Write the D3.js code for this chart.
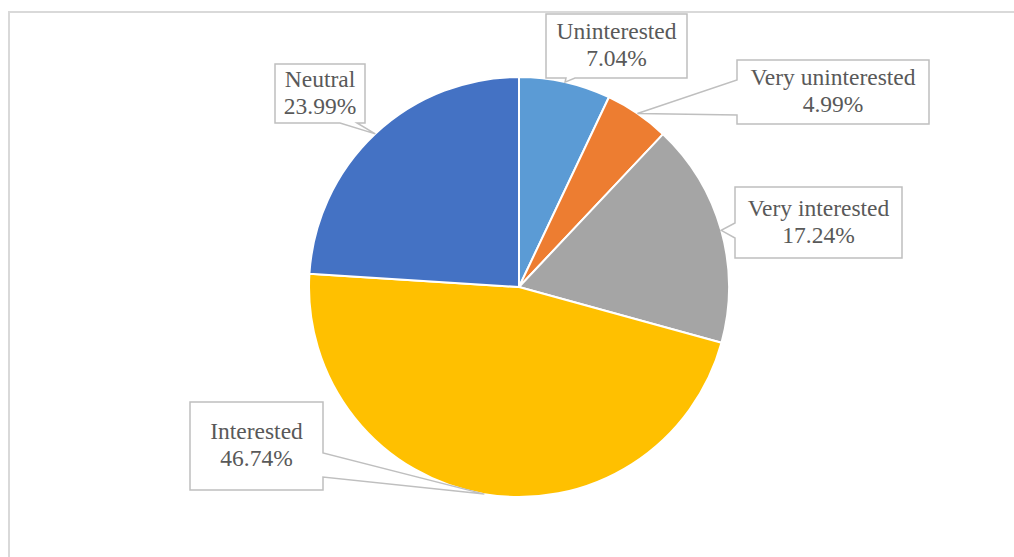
<!DOCTYPE html>
<html>
<head>
<meta charset="utf-8">
<script src="https://cdn.jsdelivr.net/npm/d3@7/dist/d3.min.js"></script>
<style>
  html, body { margin: 0; padding: 0; background: #ffffff; }
  svg { display: block; }
  .callout-text { font-family: "Liberation Serif", "Times New Roman", Times, "DejaVu Serif", serif; }
</style>
</head>
<body>
<svg id="chart" width="1014" height="557"></svg>
<script>
// Survey responses, in drawing order (clockwise from 12 o'clock)
const categories = ["Uninterested", "Very uninterested", "Very interested", "Interested", "Neutral"];
const shares = [7.04, 4.99, 17.24, 46.74, 23.99];
const colors = ["#5B9BD5", "#ED7D31", "#A5A5A5", "#FFC000", "#4472C4"];

// Callout boxes: [x0, y0, x1, y1], the side carrying the pointer, and the pointer base span
const callouts = [
  { box: [546, 14, 687, 78],  side: "bottom", base: [566, 575] },
  { box: [737, 60, 929, 124], side: "left",   base: [80, 115] },
  { box: [735, 187, 902, 258], side: "left",  base: [223, 238] },
  { box: [190, 402, 323, 490], side: "right", base: [453, 477] },
  { box: [275, 64, 365, 123], side: "bottom", base: [340, 357] }
];

const width = 1014, height = 557;
const cx = 519, cy = 287, radius = 210;

const svg = d3.select("#chart");

// Chart area frame (runs off the right and bottom edges)
svg.append("rect")
  .attr("x", 9).attr("y", 12)
  .attr("width", 1100).attr("height", 700)
  .attr("fill", "none")
  .attr("stroke", "#d9d9d9")
  .attr("stroke-width", 2);

const pie = d3.pie().sort(null).value(d => d);
const arcs = pie(shares);

const arc = d3.arc().innerRadius(0).outerRadius(radius);
const edge = d3.arc().innerRadius(radius).outerRadius(radius);

const g = svg.append("g").attr("transform", `translate(${cx},${cy})`);

g.selectAll("path.slice")
  .data(arcs)
  .join("path")
  .attr("class", "slice")
  .attr("d", arc)
  .attr("fill", (d, i) => colors[i])
  .attr("stroke", "#ffffff")
  .attr("stroke-width", 2)
  .attr("stroke-linejoin", "round");

// Rectangle outline with a wedge pointing at the tip
function calloutPath(c, tip) {
  const [x0, y0, x1, y1] = c.box;
  const [a, b] = c.base;
  const p = d3.path();
  p.moveTo(x0, y0);
  if (c.side === "top") { p.lineTo(a, y0); p.lineTo(tip[0], tip[1]); p.lineTo(b, y0); }
  p.lineTo(x1, y0);
  if (c.side === "right") { p.lineTo(x1, a); p.lineTo(tip[0], tip[1]); p.lineTo(x1, b); }
  p.lineTo(x1, y1);
  if (c.side === "bottom") { p.lineTo(b, y1); p.lineTo(tip[0], tip[1]); p.lineTo(a, y1); }
  p.lineTo(x0, y1);
  if (c.side === "left") { p.lineTo(x0, b); p.lineTo(tip[0], tip[1]); p.lineTo(x0, a); }
  p.closePath();
  return p.toString();
}

const labels = svg.append("g");

arcs.forEach((d, i) => {
  const c = callouts[i];
  const [tx, ty] = edge.centroid(d);
  const tip = [cx + tx, cy + ty];

  labels.append("path")
    .attr("d", calloutPath(c, tip))
    .attr("fill", "#ffffff")
    .attr("stroke", "#bfbfbf")
    .attr("stroke-width", 1.5)
    .attr("stroke-linejoin", "miter");

  const mx = (c.box[0] + c.box[2]) / 2;
  const my = (c.box[1] + c.box[3]) / 2;
  const t = labels.append("text")
    .attr("class", "callout-text")
    .attr("x", mx)
    .attr("y", my)
    .attr("text-anchor", "middle")
    .style("font-size", "23.5px")
    .attr("fill", "#595959");
  t.append("tspan").attr("x", mx).attr("dy", "-0.28em").text(categories[i]);
  t.append("tspan").attr("x", mx).attr("dy", "1.15em").text(d3.format(".2f")(shares[i]) + "%");
});
</script>
</body>
</html>
